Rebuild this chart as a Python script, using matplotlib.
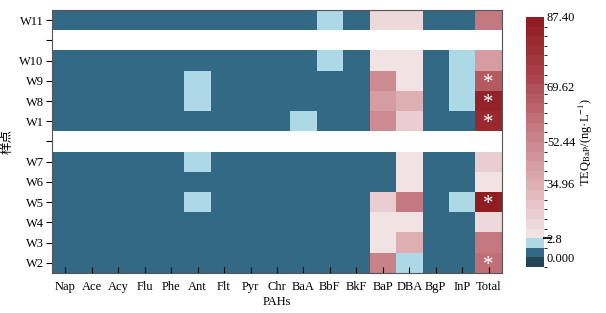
import numpy as np
import matplotlib
matplotlib.use('Agg')
import matplotlib.pyplot as plt
from matplotlib.colors import ListedColormap, BoundaryNorm, LinearSegmentedColormap

plt.rcParams['font.family'] = ['Liberation Serif', 'Noto Sans CJK SC']
plt.rcParams['mathtext.fontset'] = 'stix'

pahs = ['Nap', 'Ace', 'Acy', 'Flu', 'Phe', 'Ant', 'Flt', 'Pyr', 'Chr', 'BaA',
        'BbF', 'BkF', 'BaP', 'DBA', 'BgP', 'InP', 'Total']
sites = ['W11', '', 'W10', 'W9', 'W8', 'W1', '', 'W7', 'W6', 'W5', 'W4', 'W3', 'W2']

# TEQ values (ng/L), columns in the order of pahs; gap rows are NaN
w11 = [0, 0, 0, 0, 0, 0, 0, 0, 0, 0, 1.2, 0, 10.7, 10.7, 0, 0, 55.3]
w10 = [0, 0, 0, 0, 0, 0, 0, 0, 0, 0, 1.2, 0, 5.4, 5.4, 0, 1.2, 43.6]
w9 = [0, 0, 0, 0, 0, 1.2, 0, 0, 0, 0, 0, 0, 51.0, 5.4, 0, 1.2, 67.2]
w8 = [0, 0, 0, 0, 0, 1.2, 0, 0, 0, 0, 0, 0, 42.7, 32.0, 0, 1.2, 84.6]
w1 = [0, 0, 0, 0, 0, 0, 0, 0, 0, 1.2, 0, 0, 51.0, 18.7, 0, 0, 81.5]
w7 = [0, 0, 0, 0, 0, 1.2, 0, 0, 0, 0, 0, 0, 0, 6.8, 0, 0, 20.0]
w6 = [0, 0, 0, 0, 0, 0, 0, 0, 0, 0, 0, 0, 0, 6.8, 0, 0, 8.0]
w5 = [0, 0, 0, 0, 0, 1.2, 0, 0, 0, 0, 0, 0, 18.7, 55.3, 0, 1.2, 87.4]
w4 = [0, 0, 0, 0, 0, 0, 0, 0, 0, 0, 0, 0, 6.8, 6.8, 0, 0, 13.4]
w3 = [0, 0, 0, 0, 0, 0, 0, 0, 0, 0, 0, 0, 6.8, 32.0, 0, 0, 55.3]
w2 = [0, 0, 0, 0, 0, 0, 0, 0, 0, 0, 0, 0, 53.3, 1.2, 0, 0, 60.3]
gap = [np.nan] * len(pahs)

starred = ['W9', 'W8', 'W1', 'W5', 'W2']

cbar_ticks = [0, 2.8, 34.96, 52.44, 69.62, 87.4]
cbar_labels = ['0.000', '2.8', '34.96', '52.44', '69.62', '87.40']

data = np.array([w11, gap, w10, w9, w8, w1, gap, w7, w6, w5, w4, w3, w2])

# colour scale: dark / teal / light blue, then graded reds
n_red = 23
reds = LinearSegmentedColormap.from_list(
    'r', ['#f1e2e4', '#dcaaae', '#c47a80', '#a94048', '#8f1d22'])
red_cols = [reds(i / (n_red - 1)) for i in range(n_red)]
cols = ['#224656', '#336985', '#add8e6'] + red_cols
red_bounds = np.interp(np.linspace(0, 1, n_red + 1),
                       [0, 0.243, 0.437, 0.685, 1.0],
                       [2.8, 34.96, 52.44, 69.62, 87.4])
bounds = [-1, 0, 0.01] + list(red_bounds)
cmap = ListedColormap(cols)
cmap.set_bad('white')
norm = BoundaryNorm(bounds, cmap.N)

fig = plt.figure(figsize=(6.06, 3.13), dpi=100)
ax = fig.add_axes([0.0858, 0.128, 0.7425, 0.840])
im = ax.imshow(np.ma.masked_invalid(data), cmap=cmap, norm=norm,
               aspect='auto', interpolation='nearest')

for i, s in enumerate(sites):
    if s in starred:
        ax.text(len(pahs) - 1, i + 0.12, '*', color='white', ha='center',
                va='center', fontsize=15)

ax.set_xticks(range(len(pahs)))
ax.set_xticklabels(pahs, fontsize=9)
ax.set_yticks(range(len(sites)))
ax.set_yticklabels(sites, fontsize=9)
ax.tick_params(axis='x', direction='in', length=4, pad=6)
ax.tick_params(axis='y', direction='out', length=4, pad=2)
ax.set_xlabel('PAHs', fontsize=9, labelpad=2)
ax.set_ylabel('样点', fontsize=9, labelpad=4)
for sp in ax.spines.values():
    sp.set_color('#555555')
    sp.set_linewidth(0.8)

cax = fig.add_axes([0.868, 0.147, 0.0297, 0.799])
cbar = fig.colorbar(im, cax=cax, spacing='uniform', ticks=cbar_ticks)
cbar.ax.set_yticklabels(cbar_labels, fontsize=9)
cbar.ax.tick_params(length=0, pad=2)
cbar.outline.set_visible(False)
cax.plot([1.0, 1.35], [2.8, 2.8], color='#222222', lw=1.5,
         transform=cax.get_yaxis_transform(), clip_on=False)
cbar.set_label('TEQ$_{\\mathrm{BaP}}$/(ng·L$^{-1}$)', fontsize=9, labelpad=1)

fig.savefig('out.png', dpi=100)
